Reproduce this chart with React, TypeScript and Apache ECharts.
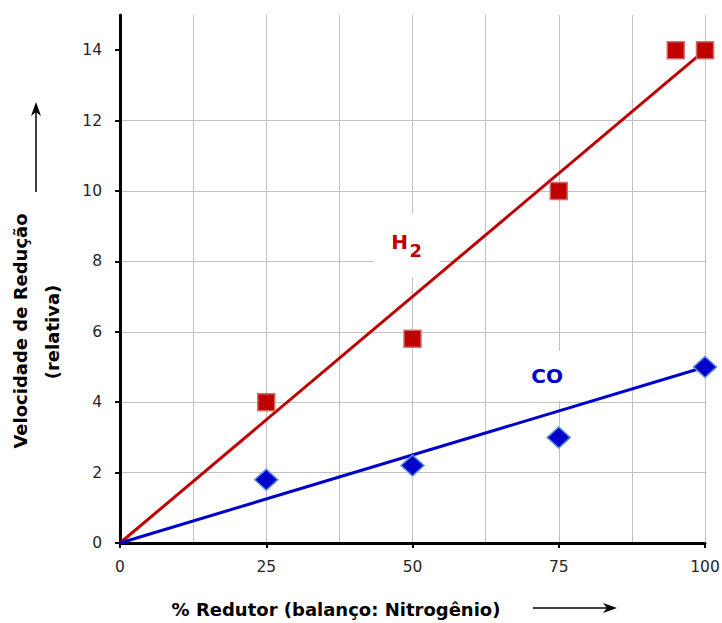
import React, { useEffect, useRef } from "react";
import * as echarts from "echarts";

// ---- data ----
const X_TICKS = [0, 25, 50, 75, 100];
const Y_TICKS = [0, 2, 4, 6, 8, 10, 12, 14];
const h2Measured = [
  [25, 4],
  [50, 5.8],
  [75, 10],
  [95, 14],
  [100, 14],
];
const coMeasured = [
  [25, 1.8],
  [50, 2.2],
  [75, 3],
  [100, 5],
];
const h2Fit = [
  [0, 0],
  [100, 14],
];
const coFit = [
  [0, 0],
  [100, 5],
];
// annotation anchors (data units)
const h2LabelAt = [49, 8.45];
const coLabelAt = [73, 4.75];

const RED = "#c00000";
const BLUE = "#0000cc";
const GRIDC = "#c0c0c0";
const FONT = "DejaVu Sans";

export default function App() {
  const ref = useRef<HTMLDivElement>(null);
  useEffect(() => {
    if (!ref.current) return;
    const chart = echarts.init(ref.current, null, { renderer: "svg" });
    const option: any = {
      animation: false,
      grid: { left: 120, right: 17, top: 15, bottom: 80, containLabel: false, outerBoundsMode: "none" },
      xAxis: {
        type: "value",
        min: X_TICKS[0],
        max: X_TICKS[X_TICKS.length - 1],
        interval: 25,
        axisLine: { show: true, onZero: false, lineStyle: { color: "#000", width: 3 } },
        axisTick: { show: true, length: 5, lineStyle: { color: "#000", width: 2 } },
        axisLabel: { fontFamily: FONT, fontSize: 15.5, color: "#262626", margin: 16 },
        splitLine: { show: true, lineStyle: { color: GRIDC, width: 1 } },
        minorTick: { show: false, splitNumber: 2 },
        minorSplitLine: { show: true, lineStyle: { color: GRIDC, width: 1 } },
      },
      yAxis: {
        type: "value",
        min: Y_TICKS[0],
        max: 15,
        interval: 2,
        axisLine: { show: true, onZero: false, lineStyle: { color: "#000", width: 3 } },
        axisTick: { show: true, length: 5, customValues: Y_TICKS, lineStyle: { color: "#000", width: 2 } },
        axisLabel: {
          fontFamily: FONT,
          fontSize: 15.5,
          color: "#262626",
          margin: 18,
          formatter: (v: number) => (Y_TICKS.indexOf(v) >= 0 ? String(v) : ""),
        },
        splitLine: { show: true, showMaxLine: false, lineStyle: { color: GRIDC, width: 1 } },
      },
      series: [
        {
          name: "H2 fit",
          type: "line",
          data: h2Fit,
          symbol: "none",
          lineStyle: { color: RED, width: 3 },
          z: 2,
          silent: true,
        },
        {
          name: "CO fit",
          type: "line",
          data: coFit,
          symbol: "none",
          lineStyle: { color: BLUE, width: 3 },
          z: 2,
          silent: true,
        },
        {
          name: "H2",
          type: "scatter",
          data: h2Measured,
          symbol: "rect",
          symbolSize: 17,
          itemStyle: { color: RED, borderColor: "#d66a6a", borderWidth: 1.5, opacity: 1 },
          z: 4,
        },
        {
          name: "CO",
          type: "scatter",
          data: coMeasured,
          symbol: "diamond",
          symbolSize: [23, 21],
          itemStyle: { color: BLUE, borderColor: "#5b8fd6", borderWidth: 1.5, opacity: 1 },
          z: 4,
        },
      ],
    };
    chart.setOption(option);

    const h2p = chart.convertToPixel({ gridIndex: 0 }, h2LabelAt) as number[];
    const cop = chart.convertToPixel({ gridIndex: 0 }, coLabelAt) as number[];

    const titleStyle = { fill: "#000", fontFamily: FONT, fontSize: 18, fontWeight: "bold", align: "center", verticalAlign: "middle" };

    chart.setOption({
      graphic: [
        // white boxes behind the labels
        { type: "rect", z: 1, shape: { x: h2p[0] - 33, y: h2p[1] - 32, width: 66, height: 64 }, style: { fill: "#fff" }, silent: true },
        { type: "rect", z: 1, shape: { x: cop[0] - 28, y: cop[1] - 25, width: 56, height: 50 }, style: { fill: "#fff" }, silent: true },
        {
          type: "text", z: 5, x: h2p[0] - 7, y: h2p[1] - 4,
          style: { text: "H", fill: RED, fontFamily: FONT, fontSize: 20, fontWeight: "bold", align: "center", verticalAlign: "middle" },
        },
        {
          type: "text", z: 5, x: h2p[0] + 9, y: h2p[1] + 5,
          style: { text: "2", fill: RED, fontFamily: FONT, fontSize: 18, fontWeight: "bold", align: "center", verticalAlign: "middle" },
        },
        {
          type: "text", z: 5, x: cop[0], y: cop[1],
          style: { text: "CO", fill: BLUE, fontFamily: FONT, fontSize: 20, fontWeight: "bold", align: "center", verticalAlign: "middle" },
        },
        // axis titles
        { type: "text", z: 5, x: 336, y: 609, style: { ...titleStyle, text: "% Redutor (balanço: Nitrogênio)" } },
        { type: "text", z: 5, x: 20, y: 331, rotation: Math.PI / 2, style: { ...titleStyle, text: "Velocidade de Redução" } },
        { type: "text", z: 5, x: 52, y: 332, rotation: Math.PI / 2, style: { ...titleStyle, text: "(relativa)" } },
        // arrows
        { type: "line", z: 5, shape: { x1: 533, y1: 608, x2: 612, y2: 608 }, style: { stroke: "#000", lineWidth: 1.5 } },
        { type: "polygon", z: 5, shape: { points: [[617, 608], [603, 603], [607, 608], [603, 613]] }, style: { fill: "#000" } },
        { type: "line", z: 5, shape: { x1: 36, y1: 192, x2: 36, y2: 107 }, style: { stroke: "#000", lineWidth: 1.5 } },
        { type: "polygon", z: 5, shape: { points: [[36, 102], [31, 116], [36, 112], [41, 116]] }, style: { fill: "#000" } },
      ],
    });

    return () => chart.dispose();
  }, []);
  return <div ref={ref} style={{ position: "absolute", left: 0, top: 0, width: 722, height: 623 }} />;
}
